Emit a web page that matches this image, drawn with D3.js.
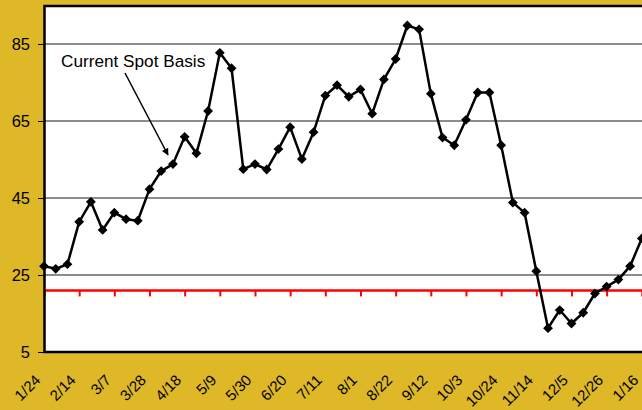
<!DOCTYPE html>
<html>
<head>
<meta charset="utf-8">
<script src="https://cdn.jsdelivr.net/npm/d3@7"></script>
<style>
  html, body { margin: 0; padding: 0; background: #DEB826; }
  svg { display: block; font-family: "Liberation Sans", Arial, sans-serif; }
</style>
</head>
<body>
<svg id="chart" width="642" height="410"></svg>
<script>
// Weekly observation dates
const weeks = ["1/24","1/31","2/7","2/14","2/21","2/28","3/7","3/14","3/21","3/28",
  "4/4","4/11","4/18","4/25","5/2","5/9","5/16","5/23","5/30","6/6","6/13","6/20",
  "6/27","7/4","7/11","7/18","7/25","8/1","8/8","8/15","8/22","8/29","9/5","9/12",
  "9/19","9/26","10/3","10/10","10/17","10/24","10/31","11/7","11/14","11/21",
  "11/28","12/5","12/12","12/19","12/26","1/2","1/9","1/16"];

// Current spot basis, one value per week
const basis = [27.3, 26.6, 27.8, 38.8, 44.0, 36.7, 41.2, 39.5, 39.1, 47.3,
  52.0, 53.8, 60.9, 56.6, 67.6, 82.7, 78.7, 52.5, 53.8, 52.4, 57.7, 63.4,
  55.1, 62.1, 71.6, 74.3, 71.3, 73.2, 66.9, 75.8, 81.1, 89.8, 88.8, 72.1,
  60.7, 58.7, 65.3, 72.4, 72.4, 58.7, 43.8, 41.2, 26.0, 11.2, 15.9, 12.4,
  15.2, 20.2, 22.0, 23.8, 27.3, 34.5];

// Labelled dates along the bottom (every third week)
const tickLabels = ["1/24","2/14","3/7","3/28","4/18","5/9","5/30","6/20","7/11",
  "8/1","8/22","9/12","10/3","10/24","11/14","12/5","12/26","1/16"];

const yTicks = [5, 25, 45, 65, 85];
const yDomain = [5, 95];
const axisCross = [21];
const annotation = ["Current Spot Basis"];

const svg = d3.select("#chart");
const plot = { left: 44, top: 5.5, bottom: 352, right: 641.8 };

const x = d3.scalePoint().domain(weeks).range([plot.left, plot.right]);
const y = d3.scaleLinear().domain(yDomain).range([plot.bottom, plot.top]);
const labelledWeeks = tickLabels.map((d, i) => weeks[i * 3]);

// plot area (right edge runs past the visible frame)
svg.append("rect")
  .attr("x", plot.left).attr("y", plot.top)
  .attr("width", 700).attr("height", plot.bottom - plot.top)
  .attr("fill", "#fff");

// horizontal gridlines
svg.append("g").selectAll("line").data(yTicks).join("line")
  .attr("x1", plot.left).attr("x2", 700)
  .attr("y1", d => y(d)).attr("y2", d => y(d))
  .attr("stroke", "#1a1a1a").attr("stroke-width", 1);

// y axis
const yAxis = svg.append("g")
  .attr("transform", `translate(${plot.left},0)`)
  .call(d3.axisLeft(y).tickValues(yTicks).tickSize(6).tickPadding(8).tickSizeOuter(0));
yAxis.select(".domain").remove();
yAxis.selectAll(".tick line").attr("stroke", "#000");
yAxis.selectAll(".tick text").attr("font-size", 16.5).attr("fill", "#000")
  .attr("font-family", "'Liberation Sans', Arial, sans-serif");

// red category axis crossing at 21
const redAxis = svg.append("g")
  .attr("transform", `translate(0,${y(axisCross[0])})`)
  .call(d3.axisBottom(x).tickValues(labelledWeeks)
    .tickSize(6).tickSizeOuter(0).tickFormat(""));
redAxis.select(".domain").attr("stroke", "#ff0000").attr("stroke-width", 2.5)
  .attr("d", `M${plot.left},0H700`);
redAxis.selectAll(".tick line").attr("stroke", "#ff0000").attr("stroke-width", 2);

// date labels at the bottom of the plot
const labelAxis = svg.append("g")
  .attr("transform", `translate(0,${plot.bottom})`)
  .call(d3.axisBottom(x).tickValues(labelledWeeks)
    .tickSize(0).tickFormat((d, i) => tickLabels[i]));
labelAxis.select(".domain").remove();
labelAxis.selectAll(".tick text")
  .attr("y", 0).attr("dy", 0)
  .attr("text-anchor", "end")
  .attr("transform", "translate(-3,29) rotate(-45)")
  .attr("font-size", 15).attr("fill", "#000")
  .attr("font-family", "'Liberation Sans', Arial, sans-serif");

// plot frame
svg.append("path")
  .attr("d", `M700,${plot.top + 0.5}H${plot.left + 0.5}V${plot.bottom}H700`)
  .attr("fill", "none").attr("stroke", "#000").attr("stroke-width", 2.5);

// series line
const line = d3.line().x((d, i) => x(weeks[i])).y(d => y(d));
svg.append("path").datum(basis)
  .attr("d", line)
  .attr("fill", "none").attr("stroke", "#000").attr("stroke-width", 2.5)
  .attr("stroke-linejoin", "round");

// diamond markers
const diamond = d3.symbol().type(d3.symbolSquare).size(48);
svg.append("g").selectAll("path").data(basis).join("path")
  .attr("d", diamond)
  .attr("transform", (d, i) => `translate(${x(weeks[i])},${y(d)}) rotate(45)`)
  .attr("fill", "#000");

// annotation with arrow
const defs = svg.append("defs");
defs.append("marker")
  .attr("id", "arrowhead")
  .attr("viewBox", "0 0 10 10")
  .attr("refX", 9).attr("refY", 5)
  .attr("markerWidth", 9).attr("markerHeight", 7)
  .attr("markerUnits", "userSpaceOnUse")
  .attr("orient", "auto")
  .append("path").attr("d", "M0,0L10,5L0,10z").attr("fill", "#000");

svg.append("text")
  .attr("x", 61).attr("y", 66.5)
  .attr("font-size", 17.2).attr("fill", "#000")
  .text(annotation[0]);

svg.append("line")
  .attr("x1", 125).attr("y1", 73)
  .attr("x2", 168).attr("y2", 155)
  .attr("stroke", "#000").attr("stroke-width", 1.5)
  .attr("marker-end", "url(#arrowhead)");
</script>
</body>
</html>
